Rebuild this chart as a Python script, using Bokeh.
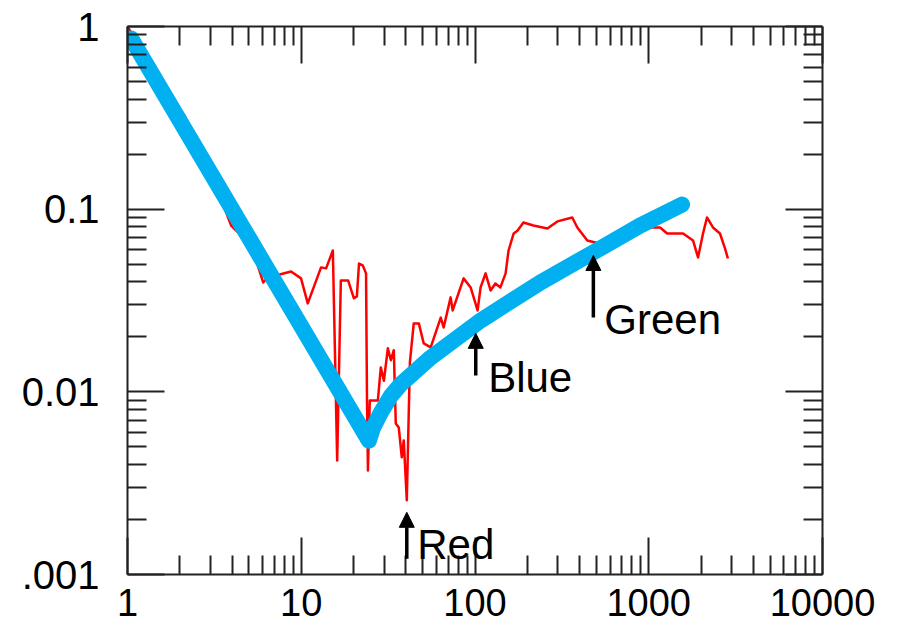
from bokeh.plotting import figure
from bokeh.models import (Range1d, LogAxis, FixedTicker, CustomJSTickFormatter,
                          Arrow, NormalHead, Label)
from bokeh.embed import file_html
from bokeh.resources import INLINE

# ---- data ----
red_x = [1.0, 1.47, 2.12, 2.84, 3.95, 4.40, 5.50, 6.04, 6.45, 8.74, 9.97, 10.9, 13.0, 13.9,
         15.2, 16.1, 16.9, 18.6, 20.1, 20.9, 21.5, 22.6, 23.6, 23.9, 24.2, 24.8, 27.6, 28.7,
         29.9, 31.5, 32.8, 34.1, 35.0, 36.4, 37.9, 38.9, 40.5, 42.2, 44.4, 47.5, 50.7, 55.6,
         63.5, 66.0, 72.4, 74.4, 86.0, 94.4, 103.5, 107.7, 115, 123, 131, 140, 150, 156, 167,
         176, 190, 217, 261, 298, 363, 388, 443, 492, 577, 685, 813, 979, 1162, 1276, 1577,
         1798, 1922, 2053, 2164, 2342, 2570, 2746, 2856]
red_y = [1.0, 0.546, 0.326, 0.185, 0.0814, 0.0736, 0.0524, 0.0397, 0.0423, 0.0456, 0.0418,
         0.0305, 0.048, 0.0474, 0.0594, 0.00421, 0.0407, 0.0407, 0.0325, 0.0333, 0.0504,
         0.0492, 0.0445, 0.00897, 0.00371, 0.00897, 0.00897, 0.0136, 0.0115, 0.0173, 0.0149,
         0.0169, 0.00671, 0.00638, 0.00438, 0.00542, 0.00255, 0.0145, 0.0237, 0.0237, 0.0184,
         0.0175, 0.0255, 0.0225, 0.0329, 0.0279, 0.0418, 0.0373, 0.0279, 0.0373, 0.0445,
         0.0359, 0.0392, 0.0373, 0.0445, 0.0594, 0.0736, 0.0764, 0.0846, 0.0814, 0.0784,
         0.0857, 0.0901, 0.0794, 0.0674, 0.0657, 0.0610, 0.0674, 0.0736, 0.0794, 0.0794,
         0.0736, 0.0736, 0.0674, 0.0544, 0.0736, 0.0901, 0.0794, 0.0736, 0.0610, 0.0537]

blue_x = [1.05, 24.5, 25.8, 28.7, 32.8, 37.4, 55.6, 108, 238, 480, 893, 1555]
blue_y = [0.86, 0.0054, 0.0063, 0.0077, 0.0095, 0.011, 0.0154, 0.0246, 0.0397, 0.058, 0.0814, 0.106]

x_tick_values = [1, 10, 100, 1000, 10000]
x_tick_labels = ["1", "10", "100", "1000", "10000"]
y_tick_values = [0.001, 0.01, 0.1, 1]
y_tick_labels = [".001", "0.01", "0.1", "1"]

marker_names = ["Red", "Blue", "Green"]
marker_x = [40.5, 101, 480]
marker_tip_y = [0.00219, 0.0209, 0.0558]
marker_tail_y = [0.00122, 0.0123, 0.0255]
# text anchor (left, baseline) for each marker label
marker_text_x = [46.5, 119, 555]
marker_text_y = [0.00146, 0.0120, 0.0249]

FONT = "Liberation Sans"

x_minor = [m * 10 ** k for k in range(0, 4) for m in range(2, 10)]
y_minor = [m * 10.0 ** k for k in range(-3, 0) for m in range(2, 10)]

p = figure(x_axis_type="log", y_axis_type="log",
           x_range=Range1d(1, 10000), y_range=Range1d(0.001, 1),
           frame_width=695, frame_height=548,
           min_border_left=127, min_border_top=26, min_border_right=70, min_border_bottom=62,
           output_backend="svg", toolbar_location=None)
p.outline_line_color = None
p.grid.visible = False
p.background_fill_color = "white"
p.border_fill_color = "white"


def fmt(vals, labs):
    return CustomJSTickFormatter(args=dict(vals=vals, labs=labs), code="""
        for (let i = 0; i < vals.length; i++) {
            if (Math.abs(Math.log10(vals[i]) - Math.log10(tick)) < 1e-6) return labs[i];
        }
        return "";
    """)


def style(ax, ticks, minor, labels=None, size="40px"):
    ax.ticker = FixedTicker(ticks=ticks, minor_ticks=minor)
    ax.major_tick_in = 37
    ax.major_tick_out = 0
    ax.minor_tick_in = 19
    ax.minor_tick_out = 0
    for attr in ("axis_line", "major_tick_line", "minor_tick_line"):
        setattr(ax, attr + "_color", "#222222")
        setattr(ax, attr + "_width", 2)
    if labels is None:
        ax.formatter = CustomJSTickFormatter(code="return '';")
        ax.major_label_text_font_size = "0px"
        ax.major_label_standoff = 0
    else:
        ax.formatter = fmt(ticks, labels)
        ax.major_label_text_font = FONT
        ax.major_label_text_font_size = size
        ax.major_label_text_color = "black"


style(p.xaxis[0], x_tick_values, x_minor, x_tick_labels, "38px")
p.xaxis[0].major_label_standoff = 14
style(p.yaxis[0], y_tick_values, y_minor, y_tick_labels, "40px")
p.yaxis[0].major_label_standoff = 28

top = LogAxis()
style(top, x_tick_values, x_minor)
p.add_layout(top, "above")
right = LogAxis()
style(right, y_tick_values, y_minor)
p.add_layout(right, "right")

p.line(red_x, red_y, line_color="#FF0000", line_width=2.5, line_join="round")
p.line(blue_x, blue_y, line_color="#00B0F0", line_width=16,
       line_cap="round", line_join="round")

for name, mx, tip, tail, tx, ty in zip(marker_names, marker_x, marker_tip_y, marker_tail_y,
                                      marker_text_x, marker_text_y):
    p.add_layout(Arrow(end=NormalHead(size=15, fill_color="black", line_color="black"),
                       x_start=mx, y_start=tail, x_end=mx, y_end=tip,
                       line_color="black", line_width=3.5))
    p.add_layout(Label(x=tx, y=ty, text=name, text_font=FONT, text_font_size="42px",
                       text_color="black", text_align="left", text_baseline="alphabetic"))

open("out.html", "w").write(file_html(p, INLINE))
